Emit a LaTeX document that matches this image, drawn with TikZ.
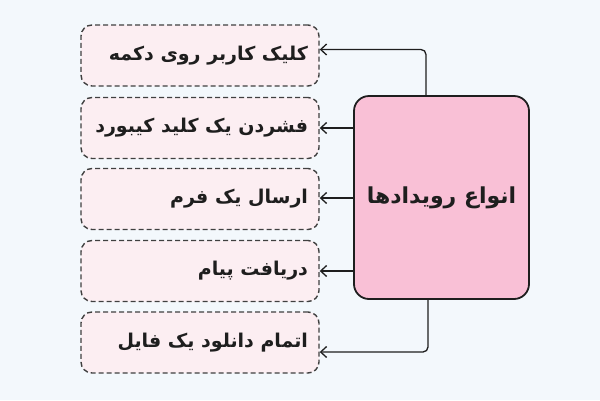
\documentclass[tikz,border=0pt]{standalone}
\usepackage{fontspec}
\newfontfamily\arabicfont[Script=Arabic]{DejaVu Sans}
\TeXXeTstate=1
\usetikzlibrary{arrows.meta}
\definecolor{bgc}{HTML}{F3F8FC}
\definecolor{mainfill}{HTML}{F9C0D6}
\definecolor{smallfill}{HTML}{FCEEF2}
\definecolor{ink}{HTML}{1E1E1E}
\newcommand{\rtltext}[1]{\makebox[216pt][r]{\beginR #1\endR}}
\tikzset{
  smallbox/.style={draw=ink!85, fill=smallfill, line width=1.4pt, dash pattern=on 5pt off 3pt,
    rounded corners=11pt, minimum width=238pt, minimum height=61pt,
    inner xsep=11pt, font=\arabicfont\bfseries\fontsize{19}{23}\selectfont, text=ink},
  mainbox/.style={draw=ink, fill=mainfill, line width=1.8pt, rounded corners=15pt,
    minimum width=175pt, minimum height=203pt, font=\arabicfont\bfseries\fontsize{22}{26}\selectfont, text=ink},
  conn/.style={draw=ink, line width=1.3pt, {Straight Barb[length=6pt,width=11pt]}-, rounded corners=5pt}
}
\begin{document}
\begin{tikzpicture}[x=1pt,y=-1pt]
\useasboundingbox[fill=bgc] (0,0) rectangle (600,400);
\node[smallbox] (b1) at (200,55.5) {\rtltext{کلیک کاربر روی دکمه}};
\node[smallbox] (b2) at (200,128) {\rtltext{فشردن یک کلید کیبورد}};
\node[smallbox] (b3) at (200,199) {\rtltext{ارسال یک فرم}};
\node[smallbox] (b4) at (200,271) {\rtltext{دریافت پیام}};
\node[smallbox] (b5) at (200,342.5) {\rtltext{اتمام دانلود یک فایل}};
\node[mainbox] (m) at (441.5,197.5) {\raisebox{-3pt}{\beginR انواع رویدادها\endR}};
\draw[conn] ([yshift=6pt]b1.east) -| ([xshift=-15.5pt]m.north);
\draw[conn] (b2.east) -- (b2.east -| m.west);
\draw[conn] ([yshift=1pt]b3.east) -- ([yshift=1pt]b3.east -| m.west);
\draw[conn] (b4.east) -- (b4.east -| m.west);
\draw[conn] ([yshift=-9.5pt]b5.east) -| ([xshift=-13.5pt]m.south);
\end{tikzpicture}
\end{document}
